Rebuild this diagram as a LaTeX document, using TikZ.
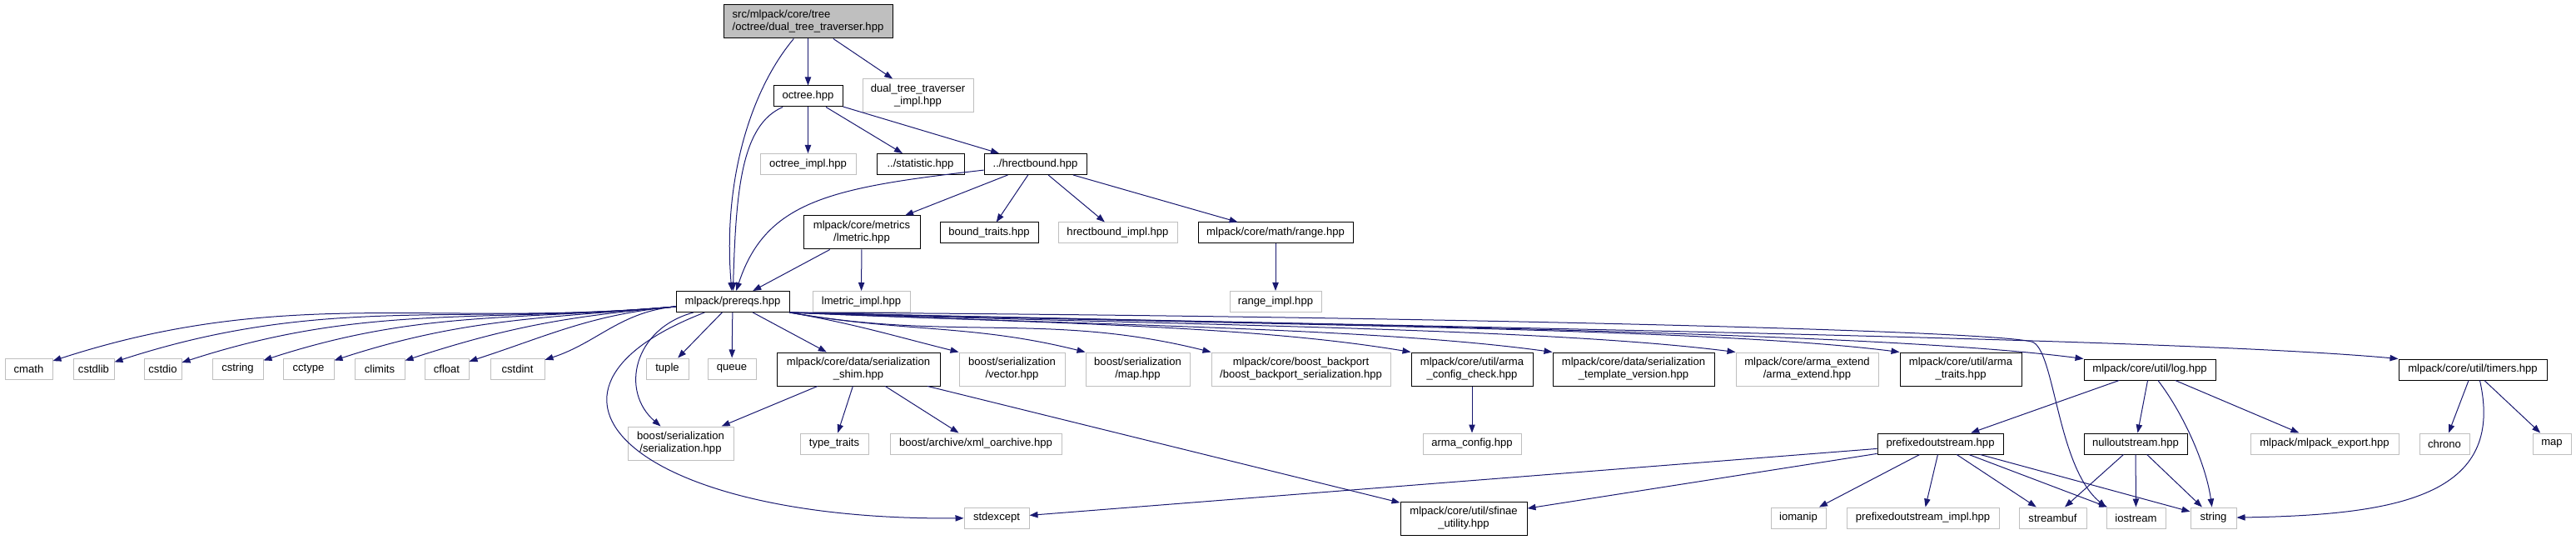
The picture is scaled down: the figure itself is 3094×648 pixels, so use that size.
\documentclass[tikz,border=0pt]{standalone}
\usepackage{fontspec}
\setmainfont{Liberation Sans}
\usetikzlibrary{arrows.meta}
\definecolor{edgeblue}{HTML}{191970}
\definecolor{boxgrey}{HTML}{BFBFBF}
\newlength{\px}\setlength{\px}{0.75pt}

\tikzset{
  box/.style={rectangle, inner sep=0pt, minimum height=25\px, line width=0.75pt,
    fill=white, font=\fontsize{9.8}{11.3}\selectfont},
  doc/.style={box, draw=black},
  sys/.style={box, draw=boxgrey},
  cur/.style={box, draw=black, fill=boxgrey, align=left},
  two/.style={minimum height=40\px, align=center},
  dep/.style={draw=edgeblue, line width=0.75pt, -{Triangle[length=7.5pt,width=5.5pt]}},
}

\begin{document}
\begin{tikzpicture}[x=0.75pt, y=-0.75pt]
  \useasboundingbox (0,0) rectangle (3094,648);
  % upper part
  \node[cur, minimum width=203\px, minimum height=40\px] (root) at (970.5,26)
       {src/mlpack/core/tree\\/octree/dual\_tree\_traverser.hpp};
  \node[doc, minimum width=83\px] (octree) at (970.5,115.5) {octree.hpp};
  \node[sys, two, minimum width=133\px] (dttimpl) at (1102.5,115) {dual\_tree\_traverser\\\_impl.hpp};
  \node[sys, minimum width=115\px] (octimpl) at (970.5,197) {octree\_impl.hpp};
  \node[doc, minimum width=105\px] (stat) at (1105.5,197) {../statistic.hpp};
  \node[doc, minimum width=123\px] (hrect) at (1243.5,197) {../hrectbound.hpp};
  \node[doc, two, minimum width=140\px] (lmetric) at (1035,279) {mlpack/core/metrics\\/lmetric.hpp};
  \node[doc, minimum width=118\px] (btraits) at (1188,279.5) {bound\_traits.hpp};
  \node[sys, minimum width=143\px] (hrimpl) at (1342.5,279.5) {hrectbound\_impl.hpp};
  \node[doc, minimum width=186\px] (range) at (1532,279.5) {mlpack/core/math/range.hpp};
  \node[doc, minimum width=136\px] (prereqs) at (880,362) {mlpack/prereqs.hpp};
  \node[sys, minimum width=117\px] (lmimpl) at (1034.5,362) {lmetric\_impl.hpp};
  \node[sys, minimum width=110\px] (rgimpl) at (1532,362) {range\_impl.hpp};
  % row of standard headers
  \foreach \n/\x/\w in {cmath/34.5/57, cstdlib/112.5/49, cstdio/195.5/45, cstring/285.5/61,
      cctype/370.5/61, climits/456/60, cfloat/536.5/53, cstdint/621.5/65, tuple/801.5/51, queue/879/58}
    \node[sys, minimum width=\w\px] (\n) at (\x,442.5) {\n};
  \node[doc, two, minimum width=196\px] (shim) at (1031,443) {mlpack/core/data/serialization\\\_shim.hpp};
  \node[sys, two, minimum width=127\px] (svector) at (1215.5,443) {boost/serialization\\/vector.hpp};
  \node[sys, two, minimum width=125\px] (smap) at (1366.5,443) {boost/serialization\\/map.hpp};
  \node[sys, two, minimum width=215\px] (backport) at (1562.5,443)
       {mlpack/core/boost\_backport\\/boost\_backport\_serialization.hpp};
  \node[doc, two, minimum width=146\px] (armacc) at (1768,443) {mlpack/core/util/arma\\\_config\_check.hpp};
  \node[doc, two, minimum width=194\px] (tplver) at (1962,443) {mlpack/core/data/serialization\\\_template\_version.hpp};
  \node[sys, two, minimum width=171\px] (armaext) at (2170.5,443) {mlpack/core/arma\_extend\\/arma\_extend.hpp};
  \node[doc, two, minimum width=146\px] (armatr) at (2355,443) {mlpack/core/util/arma\\\_traits.hpp};
  \node[doc, minimum width=158\px] (log) at (2582,443.5) {mlpack/core/util/log.hpp};
  \node[doc, minimum width=178\px] (timers) at (2970,443.5) {mlpack/core/util/timers.hpp};
  % third row
  \node[sys, two, minimum width=127\px] (sserial) at (817.5,532) {boost/serialization\\/serialization.hpp};
  \node[sys, minimum width=82\px] (typetr) at (1002,532.5) {type\_traits};
  \node[sys, minimum width=206\px] (xmlarch) at (1172,532.5) {boost/archive/xml\_oarchive.hpp};
  \node[sys, minimum width=118\px] (armacfg) at (1768,532.5) {arma\_config.hpp};
  \node[doc, minimum width=151\px] (pfx) at (2330.5,532.5) {prefixedoutstream.hpp};
  \node[doc, minimum width=124\px] (nullos) at (2565,532.5) {nulloutstream.hpp};
  \node[sys, minimum width=178\px] (mlexport) at (2792,532.5) {mlpack/mlpack\_export.hpp};
  \node[sys, minimum width=60\px] (chrono) at (2936,532.5) {chrono};
  \node[sys, minimum width=46\px] (map) at (3065,532.5) {map};
  % bottom row
  \node[sys, minimum width=78\px] (stdexcept) at (1197,621.5) {stdexcept};
  \node[doc, two, minimum width=152\px] (sfinae) at (1758,622) {mlpack/core/util/sfinae\\\_utility.hpp};
  \node[sys, minimum width=66\px] (iomanip) at (2160,621.5) {iomanip};
  \node[sys, minimum width=183\px] (pfximpl) at (2309.5,621.5) {prefixedoutstream\_impl.hpp};
  \node[sys, minimum width=81\px] (streambuf) at (2465.5,621.5) {streambuf};
  \node[sys, minimum width=71\px] (iostream) at (2565.5,621.5) {iostream};
  \node[sys, minimum width=55\px] (string) at (2658.5,621.5) {string};

  % edges from the top
  \draw[dep] (root) -- (octree);
  \draw[dep] (root) -- (dttimpl);
  \draw[dep] (root) .. controls (900,110) and (868,220) .. (prereqs);
  \draw[dep] (octree) -- (octimpl);
  \draw[dep] (octree) -- (stat);
  \draw[dep] (octree) -- (hrect);
  \draw[dep] (octree) .. controls (890,150) and (884,230) .. (prereqs);
  \draw[dep] (hrect) .. controls (1000,225) and (920,240) .. (prereqs);
  \foreach \t in {lmetric, btraits, hrimpl, range}
    \draw[dep] (hrect) -- (\t);
  \draw[dep] (lmetric) -- (prereqs);
  \draw[dep] (lmetric) -- (lmimpl);
  \draw[dep] (range) -- (rgimpl);
  % prereqs.hpp
  \foreach \t in {cmath, cstdlib, cstdio, cstring, cctype, climits, cfloat, cstdint}
    \draw[dep] (prereqs) to[out=185, in=18] (\t);
  \draw[dep] (prereqs) -- (tuple);
  \draw[dep] (prereqs) -- (queue);
  \draw[dep] (prereqs) -- (shim);
  \foreach \t in {svector, smap, backport}
    \draw[dep] (prereqs.south east) to[out=-10, in=166] (\t.north west);
  \draw[dep] (prereqs.south east) .. controls (1250,388) and (1500,390) .. (armacc.north west);
  \draw[dep] (prereqs.south east) .. controls (1300,390) and (1650,393) .. (tplver.north west);
  \draw[dep] (prereqs.south east) .. controls (1400,390) and (1850,393) .. (armaext.north west);
  \draw[dep] (prereqs.south east) .. controls (1500,390) and (2050,393) .. (armatr.north west);
  \draw[dep] (prereqs.south east) .. controls (1600,390) and (2250,398) .. (log.north west);
  \draw[dep] (prereqs.south east) .. controls (1700,392) and (2600,405) .. (timers.north west);
  \draw[dep] (prereqs) .. controls (760,395) and (745,470) .. (sserial);
  \draw[dep] (prereqs) .. controls (600,470) and (760,625) .. (stdexcept);
  \draw[dep] (prereqs.south east) .. controls (1600,378) and (2380,395) .. (2440,410)
             .. controls (2468,417) and (2470,560) .. (iostream.north west);
  % serialization shim
  \foreach \t in {sserial, typetr, xmlarch, sfinae}
    \draw[dep] (shim) -- (\t);
  \draw[dep] (armacc) -- (armacfg);
  % log.hpp and timers.hpp
  \draw[dep] (log) -- (pfx);
  \draw[dep] (log) -- (nullos);
  \draw[dep] (log) .. controls (2625,500) and (2650,560) .. (string);
  \draw[dep] (log) -- (mlexport);
  \draw[dep] (timers) -- (chrono);
  \draw[dep] (timers) -- (map);
  \draw[dep] (timers.-57) .. controls (3010,595) and (2880,618) .. (string);
  % output streams
  \foreach \t in {stdexcept, sfinae, iomanip, pfximpl, streambuf, iostream, string}
    \draw[dep] (pfx) -- (\t);
  \foreach \t in {streambuf, iostream, string}
    \draw[dep] (nullos) -- (\t);
\end{tikzpicture}
\end{document}
